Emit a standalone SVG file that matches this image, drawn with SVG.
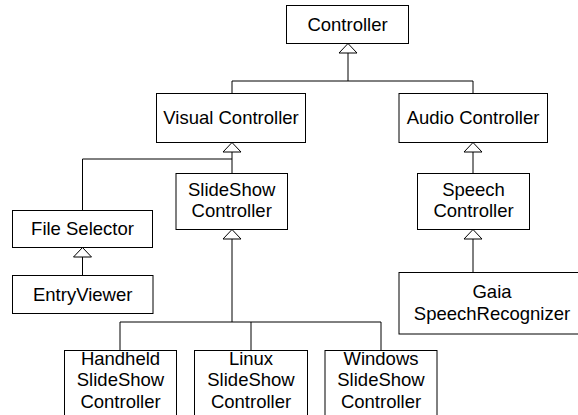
<svg xmlns="http://www.w3.org/2000/svg" width="578" height="415" viewBox="0 0 578 415">
  <defs>
    <style>
      .box { fill: #ffffff; stroke: #000000; stroke-width: 1; }
      .lbl { font-family: "Liberation Sans", Arial, sans-serif; font-size: 18.5px; fill: #000000; text-anchor: middle; }
      .wire { fill: none; stroke: #000000; stroke-width: 1; }
      .head { fill: #ffffff; stroke: #000000; stroke-width: 1; }
    </style>
  </defs>
  <rect x="0" y="0" width="578" height="415" fill="#ffffff"/>

  <!-- inheritance connectors -->
  <g id="connectors">
    <!-- Controller subclasses -->
    <path class="wire" d="M348 53 V81 M232 81 H473 M232 81 V93.5 M473 81 V93.5"/>
    <polygon class="head" points="348,43.5 339,53 357,53"/>
    <!-- Visual Controller subclasses -->
    <path class="wire" d="M232 152 V173.5 M82.5 159 H232 M82.5 159 V210.5"/>
    <polygon class="head" points="232,142.5 223,152 241,152"/>
    <!-- File Selector subclass -->
    <path class="wire" d="M82.5 257 V275.5"/>
    <polygon class="head" points="82.5,247.5 73.5,257 91.5,257"/>
    <!-- SlideShow Controller subclasses -->
    <path class="wire" d="M232 239 V322 M120 322 H381 M120 322 V350.5 M251 322 V350.5 M381 322 V350.5"/>
    <polygon class="head" points="232,229.5 223,239 241,239"/>
    <!-- Audio Controller subclass -->
    <path class="wire" d="M473 152 V173.5"/>
    <polygon class="head" points="473,142.5 464,152 482,152"/>
    <!-- Speech Controller subclass -->
    <path class="wire" d="M473 239 V272.5"/>
    <polygon class="head" points="473,229.5 464,239 482,239"/>
  </g>

  <g id="controller">
    <rect class="box" x="286.5" y="5.5" width="122" height="38"/>
    <text class="lbl" x="347.5" y="31">Controller</text>
  </g>

  <g id="visual-controller">
    <rect class="box" x="156.5" y="93.5" width="149" height="49"/>
    <text class="lbl" x="231" y="124.3">Visual Controller</text>
  </g>

  <g id="audio-controller">
    <rect class="box" x="399" y="93.5" width="148.5" height="49"/>
    <text class="lbl" x="473" y="124.3">Audio Controller</text>
  </g>

  <g id="slideshow-controller">
    <rect class="box" x="176" y="173.5" width="111.5" height="56"/>
    <text class="lbl" x="231.7" y="196">SlideShow</text>
    <text class="lbl" x="231.7" y="217.3">Controller</text>
  </g>

  <g id="file-selector">
    <rect class="box" x="12.5" y="210.5" width="140" height="37"/>
    <text class="lbl" x="82.5" y="235">File Selector</text>
  </g>

  <g id="entry-viewer">
    <rect class="box" x="12.5" y="275.5" width="140.5" height="38"/>
    <text class="lbl" x="82.7" y="300.5">EntryViewer</text>
  </g>

  <g id="speech-controller">
    <rect class="box" x="417.5" y="173.5" width="112" height="56"/>
    <text class="lbl" x="473.5" y="196">Speech</text>
    <text class="lbl" x="473.5" y="217.3">Controller</text>
  </g>

  <g id="gaia-speech-recognizer">
    <rect class="box" x="399" y="272.5" width="186" height="61.5"/>
    <text class="lbl" x="492" y="297.5">Gaia</text>
    <text class="lbl" x="492" y="319.5">SpeechRecognizer</text>
  </g>

  <g id="handheld-slideshow-controller">
    <rect class="box" x="64.5" y="350.5" width="112" height="70"/>
    <text class="lbl" x="120.5" y="365">Handheld</text>
    <text class="lbl" x="120.5" y="386.3">SlideShow</text>
    <text class="lbl" x="120.5" y="407.6">Controller</text>
  </g>

  <g id="linux-slideshow-controller">
    <rect class="box" x="194.5" y="350.5" width="113" height="70"/>
    <text class="lbl" x="251" y="365">Linux</text>
    <text class="lbl" x="251" y="386.3">SlideShow</text>
    <text class="lbl" x="251" y="407.6">Controller</text>
  </g>

  <g id="windows-slideshow-controller">
    <rect class="box" x="325" y="350.5" width="112" height="70"/>
    <text class="lbl" x="381" y="365">Windows</text>
    <text class="lbl" x="381" y="386.3">SlideShow</text>
    <text class="lbl" x="381" y="407.6">Controller</text>
  </g>
</svg>
